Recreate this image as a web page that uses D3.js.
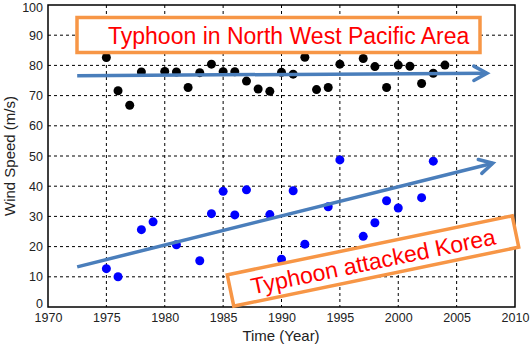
<!DOCTYPE html>
<html><head><meta charset="utf-8">
<script src="https://cdn.jsdelivr.net/npm/d3@7"></script>
<style>body{margin:0;background:#fff}svg{display:block;font-family:"Liberation Sans",Arial,sans-serif}</style>
</head><body><svg id="c" width="530" height="347"></svg>
<script>
const xTicks = [1970,1975,1980,1985,1990,1995,2000,2005,2010];
const yTicks = [0,10,20,30,40,50,60,70,80,90,100];
const pacificYears = [1975,1976,1977,1978,1980,1981,1982,1983,1984,1985,1986,1987,1988,1989,1990,1991,1992,1993,1994,1995,1997,1998,1999,2000,2001,2002,2003,2004];
const pacificSpeed = [82.6,71.6,66.8,77.8,78,77.8,72.7,77.6,80.4,77.9,77.9,74.8,72.2,71.4,77.7,77.1,82.7,72,72.7,80.4,82.3,79.6,72.7,80.1,79.7,74,77.4,80.1];
const koreaYears = [1975,1976,1978,1979,1981,1983,1984,1985,1986,1987,1989,1990,1991,1992,1994,1995,1997,1998,1999,2000,2002,2003];
const koreaSpeed = [12.7,10,25.6,28.2,20.6,15.3,30.9,38.3,30.5,38.8,30.6,15.8,38.5,20.8,33.2,48.7,23.4,27.9,35.2,32.8,36.2,48.3];
const trendYears = [1972.5, 2007.6];
const pacificTrend = [76.6, 77.4];
const koreaTrendYears = [1972.5, 2008.1];
const koreaTrend = [13.3, 47.6];
const labels = ["Typhoon in North West Pacific Area", "Typhoon attacked Korea"];

const svg = d3.select("#c");
const L=48, R=515, T=5, B=307;
const x = d3.scaleLinear().domain([1970,2010]).range([L,R]);
const y = d3.scaleLinear().domain([0,100]).range([B,T]);

// grid
const g = svg.append("g");
g.selectAll(".gx").data(xTicks.slice(1,-1)).enter().append("line")
  .attr("x1",d=>x(d)).attr("x2",d=>x(d)).attr("y1",T).attr("y2",B)
  .attr("stroke","#000").attr("stroke-width",1).attr("stroke-dasharray","3,3");
g.selectAll(".gy").data(yTicks.slice(1,-1)).enter().append("line")
  .attr("y1",d=>y(d)).attr("y2",d=>y(d)).attr("x1",L).attr("x2",R)
  .attr("stroke","#000").attr("stroke-width",1).attr("stroke-dasharray","3,3");

// axes
const xa = svg.append("g").attr("transform",`translate(0,${B})`)
  .call(d3.axisBottom(x).tickValues(xTicks).tickFormat(d3.format("d")).tickSize(0).tickPadding(6));
const ya = svg.append("g").attr("transform",`translate(${L},0)`)
  .call(d3.axisLeft(y).tickValues(yTicks).tickSize(0).tickPadding(5));
[xa,ya].forEach(a=>{a.select(".domain").remove();a.selectAll("text").attr("fill","#222").style("font-size","12.5px").style("font-family","'Liberation Sans',Arial,sans-serif");});
ya.selectAll("text").filter(d=>d===100).attr("dy","0.5em");
ya.selectAll("text").filter(d=>d===0).attr("dy","0em");
svg.append("rect").attr("x",L).attr("y",T).attr("width",R-L).attr("height",B-T)
  .attr("fill","none").attr("stroke","#000").attr("stroke-width",1.5);

// points
svg.append("g").selectAll("circle").data(pacificYears).enter().append("circle")
  .attr("cx",d=>x(d)).attr("cy",(d,i)=>y(pacificSpeed[i])).attr("r",4.5).attr("fill","#000");
svg.append("g").selectAll("circle").data(koreaYears).enter().append("circle")
  .attr("cx",d=>x(d)).attr("cy",(d,i)=>y(koreaSpeed[i])).attr("r",4.5).attr("fill","#0000ff");

// trend arrows
function arrow(xs, ys){
  const x1=x(xs[0]), y1=y(ys[0]), x2=x(xs[1]), y2=y(ys[1]);
  const a=Math.atan2(y2-y1,x2-x1), len=15, sp=0.5;
  const line=d3.line();
  svg.append("path").attr("d",line([[x1,y1],[x2,y2]])).attr("stroke","#4a7ebb").attr("stroke-width",3.5).attr("fill","none");
  svg.append("path").attr("d",line([[x2-len*Math.cos(a-sp),y2-len*Math.sin(a-sp)],[x2,y2],[x2-len*Math.cos(a+sp),y2-len*Math.sin(a+sp)]]))
    .attr("stroke","#4a7ebb").attr("stroke-width",3.5).attr("fill","none").attr("stroke-linecap","round").attr("stroke-linejoin","miter");
}
arrow(trendYears, pacificTrend);
arrow(koreaTrendYears, koreaTrend);

// label boxes
svg.append("rect").attr("x",77).attr("y",17.5).attr("width",403).attr("height",35)
  .attr("fill","#fff").attr("stroke","#f79646").attr("stroke-width",3.5);
svg.append("text").attr("x",108).attr("y",43.5).attr("fill","#ff0000").style("font-size","23px").text(labels[0]);

const b2 = svg.append("g").attr("transform","translate(373,261) rotate(-11.7)");
b2.append("rect").attr("x",-145.5).attr("y",-16).attr("width",291).attr("height",32)
  .attr("fill","#fff").attr("stroke","#f79646").attr("stroke-width",3.5);
b2.append("text").attr("x",0).attr("y",8.5).attr("text-anchor","middle").attr("fill","#ff0000").style("font-size","23px").text(labels[1]);

// axis titles
svg.append("text").attr("x",281).attr("y",341).attr("text-anchor","middle").attr("fill","#222").style("font-size","15px").text("Time (Year)");
svg.append("text").attr("transform","translate(15,156) rotate(-90)").attr("text-anchor","middle").attr("fill","#222").style("font-size","15px").text("Wind Speed (m/s)");
</script></body></html>
